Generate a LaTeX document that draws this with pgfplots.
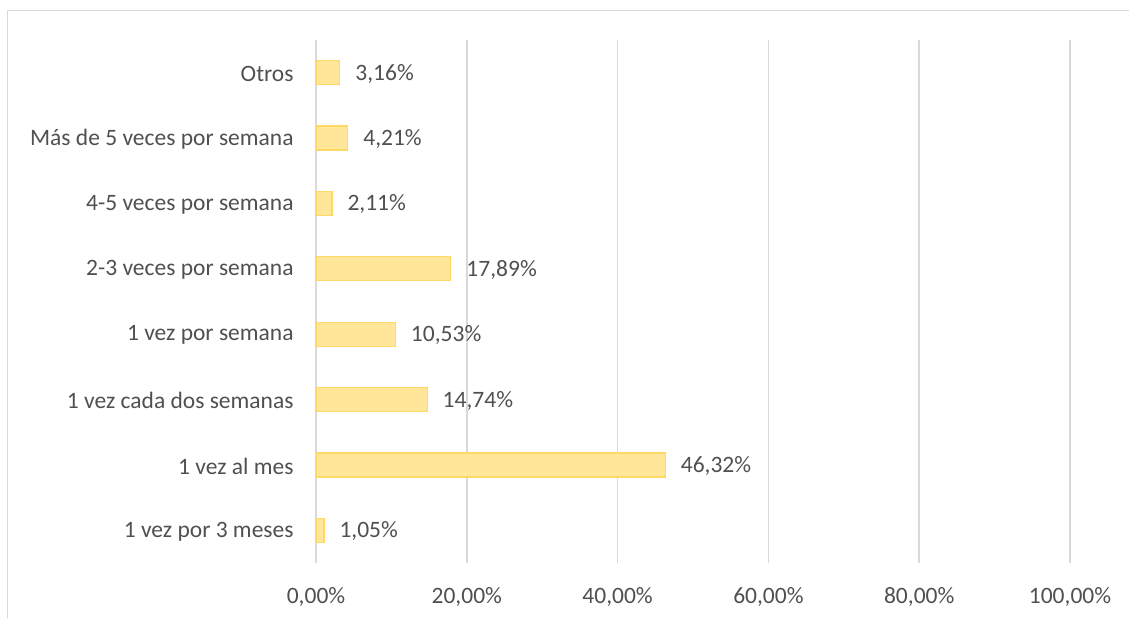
\documentclass[border=0pt]{standalone}
\usepackage{pgfplots}
\pgfplotsset{compat=1.18}
\usepackage{fontspec}
\setmainfont{Carlito}
\definecolor{barfill}{HTML}{FFE699}
\definecolor{barline}{HTML}{FFD966}
\definecolor{txt}{HTML}{505050}
\definecolor{gridc}{HTML}{D9D9D9}
\begin{document}
\begin{tikzpicture}[x=1pt,y=1pt]
\useasboundingbox (0,0) rectangle (1129,618);
\draw[gridc, line width=1.2pt] (7.5,-10) -- (7.5,607.5) -- (1140,607.5);
\begin{axis}[
  at={(316pt,55pt)}, anchor=south west,
  scale only axis, width=754pt, height=523pt,
  xbar, bar width=24pt,
  xmin=0, xmax=100, ymin=-0.5, ymax=7.5,
  ytick={0,1,2,3,4,5,6,7},
  yticklabels={1 vez por 3 meses, 1 vez al mes, 1 vez cada dos semanas, 1 vez por semana, 2-3 veces por semana, 4-5 veces por semana, Más de 5 veces por semana, Otros},
  xtick={0,20,40,60,80,100},
  xticklabel={\pgfmathprintnumber[fixed,fixed zerofill,precision=2,use comma]{\tick}\%},
  /pgf/number format/assume math mode=true,
  axis line style={draw=none},
  tick style={draw=none},
  xmajorgrids, major grid style={gridc, line width=1.5pt},
  tick label style={font=\fontsize{23.5}{28}\selectfont, text=txt},
  yticklabel style={anchor=east, inner sep=0pt, xshift=-18pt, yshift=-1pt},
  xticklabel style={anchor=north, inner sep=0pt, yshift=-24pt},
  nodes near coords={\pgfmathprintnumber[fixed,fixed zerofill,precision=2,use comma]{\pgfplotspointmeta}\%},
  nodes near coords style={anchor=west, inner sep=0pt, xshift=15pt, yshift=-1pt, font=\fontsize{23.5}{28}\selectfont, text=txt},
  clip=false,
]
\addplot[fill=barfill, draw=barline, line width=1.2pt] coordinates {
  (1.05,0) (46.32,1) (14.74,2) (10.53,3) (17.89,4) (2.11,5) (4.21,6) (3.16,7)
};
\end{axis}
\end{tikzpicture}
\end{document}
